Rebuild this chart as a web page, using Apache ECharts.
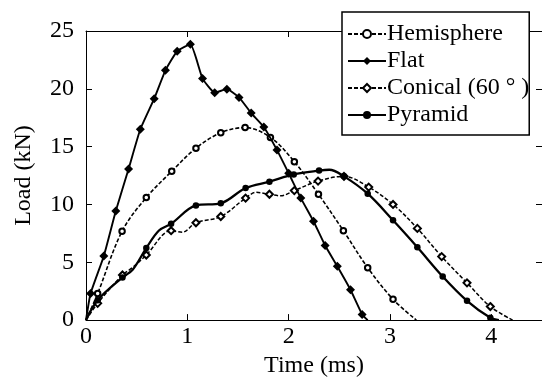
<!DOCTYPE html>
<html>
<head>
<meta charset="utf-8">
<script src="https://cdn.jsdelivr.net/npm/echarts@6/dist/echarts.min.js"></script>
<style>
html,body{margin:0;padding:0;background:#fff;}
#chart{width:542px;height:383px;}
</style>
</head>
<body>
<div id="chart"></div>
<script>
// Data: [time (ms), load (kN), marker shown (1) or not (0)]
var hemisphere = [
  [0,0,0],[0.115,2.3,1],[0.356,7.68,1],[0.595,10.6,1],[0.846,12.87,1],[1.085,14.87,1],
  [1.33,16.2,1],[1.57,16.65,1],[1.82,15.8,1],[2.056,13.7,1],[2.294,10.88,1],
  [2.54,7.73,1],[2.78,4.53,1],[3.03,1.8,1],[3.26,0,0]
];
var flat = [
  [0,0,0],[0.045,2.3,1],[0.176,5.55,1],[0.294,9.43,1],[0.42,13.06,1],[0.536,16.5,1],
  [0.673,19.15,1],[0.784,21.6,1],[0.9,23.25,1],[1.03,23.85,1],[1.15,20.9,1],
  [1.27,19.67,1],[1.39,19.97,1],[1.51,19.26,1],[1.63,17.9,1],[1.755,16.7,1],
  [1.885,14.7,1],[2.0,12.7,1],[2.12,10.55,1],[2.245,8.55,1],[2.36,6.45,1],
  [2.48,4.65,1],[2.61,2.62,1],[2.725,0.49,1],[2.78,0,0]
];
var conical = [
  [0,0,0],[0.115,1.45,1],[0.36,3.9,1],[0.46,4.55,0],[0.595,5.63,1],[0.84,7.73,1],
  [0.95,7.6,0],[1.085,8.42,1],[1.33,8.96,1],[1.575,10.55,1],[1.68,11.05,0],
  [1.81,10.88,1],[1.92,10.75,0],[2.056,11.2,1],[2.29,12.02,1],[2.546,12.43,1],
  [2.79,11.5,1],[3.03,10.0,1],[3.27,7.93,1],[3.51,5.49,1],[3.76,3.22,1],
  [3.99,1.17,1],[4.21,0,0]
];
var pyramid = [
  [0,0,0],[0.115,1.72,1],[0.36,3.69,1],[0.46,4.35,0],[0.595,6.23,1],[0.72,7.75,0],
  [0.84,8.33,1],[1.085,9.92,1],[1.33,10.1,1],[1.575,11.42,1],[1.81,11.97,1],
  [2.05,12.6,1],[2.30,12.93,1],[2.40,13.0,0],[2.546,12.43,1],[2.78,10.93,1],
  [3.03,8.63,1],[3.27,6.3,1],[3.52,3.77,1],[3.76,1.67,1],[3.99,0.2,1],[4.075,0,0]
];
var seriesNames = ['Hemisphere','Flat','Conical (60 ° )','Pyramid'];
var xTicks = [0,1,2,3,4];
var yTicks = [0,5,10,15,20,25];

function toData(arr){
  return arr.map(function(p){
    return p[2] ? {value:[p[0],p[1]]} : {value:[p[0],p[1]], symbol:'none'};
  });
}
var FONT = '"Liberation Serif", "Times New Roman", Times, serif';
var chart = echarts.init(document.getElementById('chart'), null, {renderer:'canvas'});
var axisBase = {
  type:'value',
  axisLine:{show:true, onZero:false, lineStyle:{color:'#000', width:1}},
  axisTick:{show:true, inside:true, length:6, lineStyle:{color:'#000'}},
  splitLine:{show:false}
};
chart.setOption({
  animation:false,
  backgroundColor:'#fff',
  grid:{left:86, top:31, width:459, height:305, containLabel:false},
  legend:{
    orient:'vertical', left:342, top:12,
    data:seriesNames,
    selectedMode:false,
    backgroundColor:'#fff', borderColor:'#000', borderWidth:1.5, borderRadius:0,
    padding:[10,0,8,5], itemGap:3, itemWidth:38, itemHeight:10,
    textStyle:{fontFamily:FONT, fontSize:24, color:'#000', lineHeight:24, padding:[0,0,0,-4]}
  },
  xAxis:[
    Object.assign({}, axisBase, {
      position:'bottom', min:0, max:4.5, interval:1,
      axisLabel:{show:true, margin:5, color:'#000', fontFamily:FONT, fontSize:24,
        showMaxLabel:false, formatter:function(v){return xTicks.indexOf(v)>=0 ? String(v) : '';}},
      name:'Time (ms)', nameLocation:'middle', nameGap:15,
      nameTextStyle:{fontFamily:FONT, fontSize:24, color:'#000'}
    }),
    Object.assign({}, axisBase, {
      position:'top', min:0, max:4.5, interval:1, axisLabel:{show:false}
    })
  ],
  yAxis:[
    Object.assign({}, axisBase, {
      position:'left', min:0, max:25, interval:5,
      axisLabel:{show:true, margin:12, color:'#000', fontFamily:FONT, fontSize:24,
        formatter:function(v){return yTicks.indexOf(v)>=0 ? String(v) : '';}},
      name:'Load (kN)', nameLocation:'middle', nameGap:50,
      nameTextStyle:{fontFamily:FONT, fontSize:24, color:'#000'}
    }),
    Object.assign({}, axisBase, {
      position:'right', min:0, max:25, interval:5, axisLabel:{show:false}
    })
  ],
  series:[
    {name:seriesNames[0], type:'line', smooth:0.35, data:toData(hemisphere),
     symbol:'emptyCircle', symbolSize:5.5, showAllSymbol:true,
     lineStyle:{color:'#000', width:1.6, type:[4,2]},
     itemStyle:{color:'#000', borderColor:'#000', borderWidth:1.1}, z:3},
    {name:seriesNames[1], type:'line', smooth:0.15, data:toData(flat),
     symbol:'diamond', symbolSize:9, showAllSymbol:true,
     lineStyle:{color:'#000', width:1.9},
     itemStyle:{color:'#000', borderColor:'#000', borderWidth:0}, z:4},
    {name:seriesNames[2], type:'line', smooth:0.35, data:toData(conical),
     symbol:'emptyDiamond', symbolSize:7, showAllSymbol:true,
     lineStyle:{color:'#000', width:1.5, type:[4,2]},
     itemStyle:{color:'#000', borderColor:'#000', borderWidth:1}, z:3},
    {name:seriesNames[3], type:'line', smooth:0.35, data:toData(pyramid),
     symbol:'circle', symbolSize:6.5, showAllSymbol:true,
     lineStyle:{color:'#000', width:2.3},
     itemStyle:{color:'#000', borderColor:'#000', borderWidth:0}, z:4}
  ]
});
</script>
</body>
</html>
